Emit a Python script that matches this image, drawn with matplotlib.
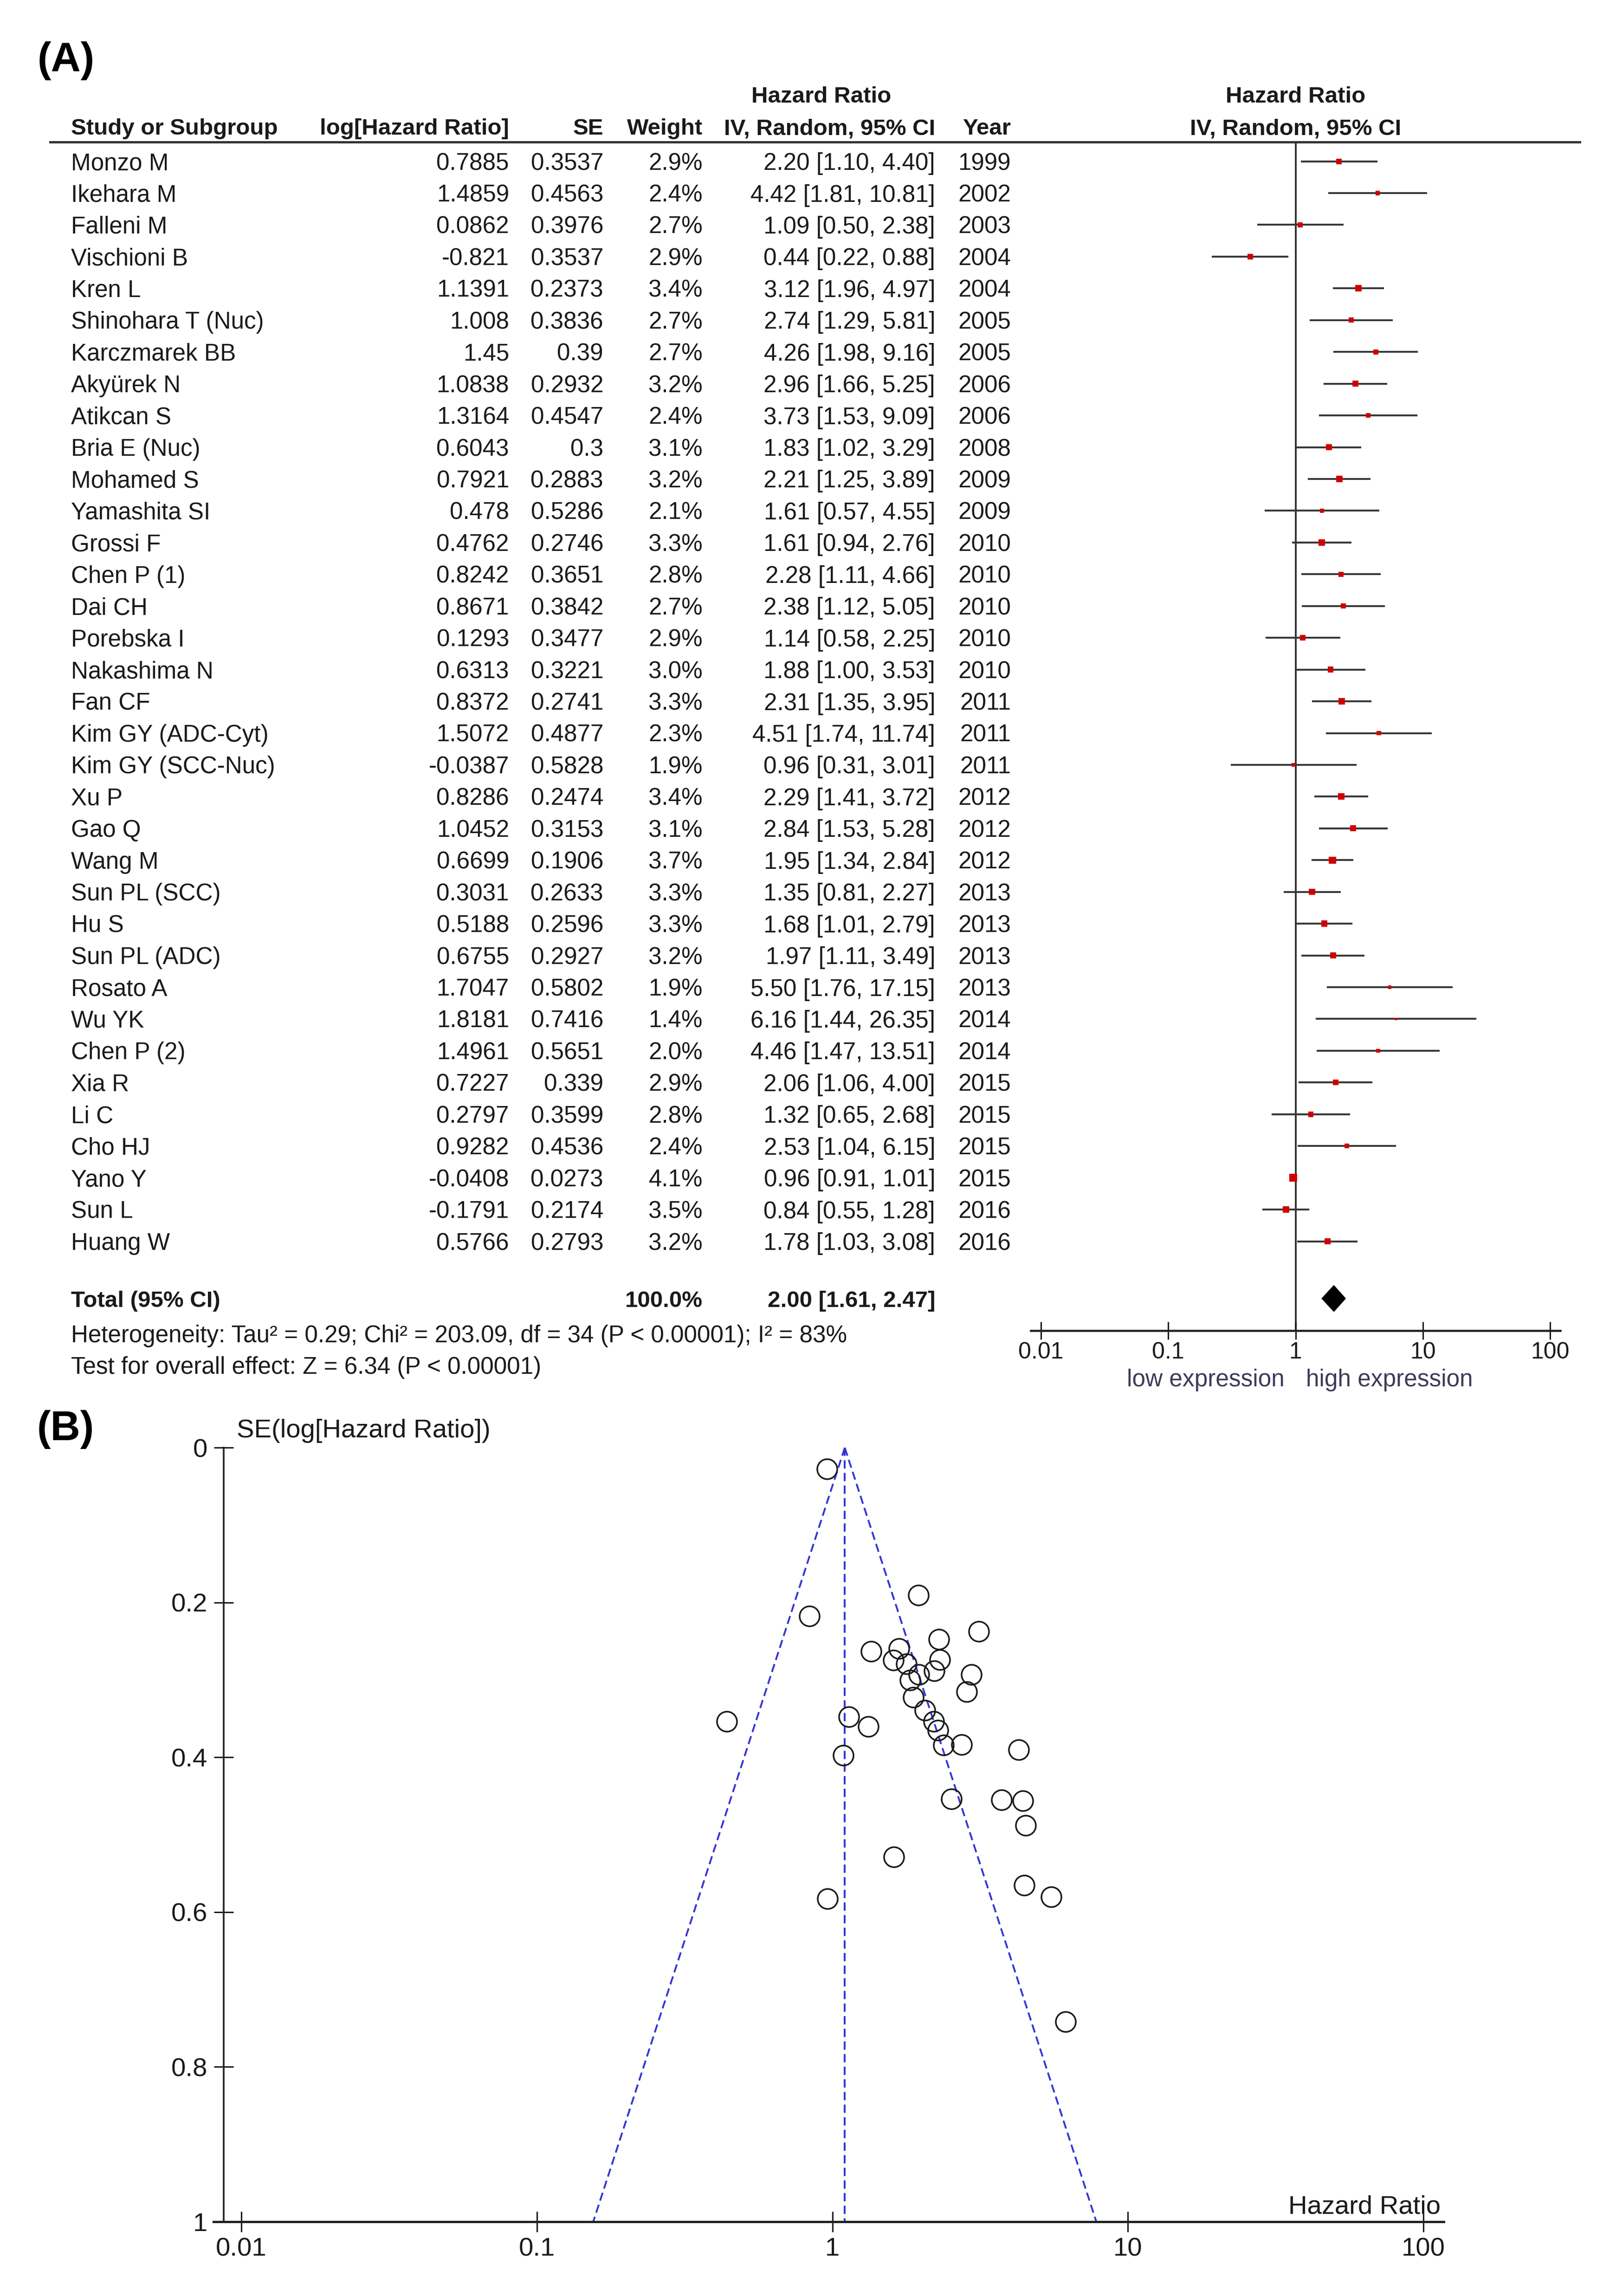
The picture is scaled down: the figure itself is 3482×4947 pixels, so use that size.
import matplotlib
matplotlib.use('Agg')
import matplotlib.pyplot as plt
import numpy as np
from matplotlib.transforms import blended_transform_factory, offset_copy
from matplotlib.lines import Line2D
from matplotlib.ticker import NullLocator

# ---------------- data ----------------
studies = ["Monzo M", "Ikehara M", "Falleni M", "Vischioni B", "Kren L",
           "Shinohara T (Nuc)", "Karczmarek BB", "Akyürek N", "Atikcan S",
           "Bria E (Nuc)", "Mohamed S", "Yamashita SI", "Grossi F", "Chen P (1)",
           "Dai CH", "Porebska I", "Nakashima N", "Fan CF", "Kim GY (ADC-Cyt)",
           "Kim GY (SCC-Nuc)", "Xu P", "Gao Q", "Wang M", "Sun PL (SCC)", "Hu S",
           "Sun PL (ADC)", "Rosato A", "Wu YK", "Chen P (2)", "Xia R", "Li C",
           "Cho HJ", "Yano Y", "Sun L", "Huang W"]
log_hr = [0.7885, 1.4859, 0.0862, -0.821, 1.1391, 1.008, 1.45, 1.0838, 1.3164,
          0.6043, 0.7921, 0.478, 0.4762, 0.8242, 0.8671, 0.1293, 0.6313, 0.8372,
          1.5072, -0.0387, 0.8286, 1.0452, 0.6699, 0.3031, 0.5188, 0.6755, 1.7047,
          1.8181, 1.4961, 0.7227, 0.2797, 0.9282, -0.0408, -0.1791, 0.5766]
se = [0.3537, 0.4563, 0.3976, 0.3537, 0.2373, 0.3836, 0.39, 0.2932, 0.4547,
      0.3, 0.2883, 0.5286, 0.2746, 0.3651, 0.3842, 0.3477, 0.3221, 0.2741,
      0.4877, 0.5828, 0.2474, 0.3153, 0.1906, 0.2633, 0.2596, 0.2927, 0.5802,
      0.7416, 0.5651, 0.339, 0.3599, 0.4536, 0.0273, 0.2174, 0.2793]
weight = [2.9, 2.4, 2.7, 2.9, 3.4, 2.7, 2.7, 3.2, 2.4, 3.1, 3.2, 2.1, 3.3, 2.8,
          2.7, 2.9, 3.0, 3.3, 2.3, 1.9, 3.4, 3.1, 3.7, 3.3, 3.3, 3.2, 1.9, 1.4,
          2.0, 2.9, 2.8, 2.4, 4.1, 3.5, 3.2]
hr = [2.20, 4.42, 1.09, 0.44, 3.12, 2.74, 4.26, 2.96, 3.73, 1.83, 2.21, 1.61,
      1.61, 2.28, 2.38, 1.14, 1.88, 2.31, 4.51, 0.96, 2.29, 2.84, 1.95, 1.35,
      1.68, 1.97, 5.50, 6.16, 4.46, 2.06, 1.32, 2.53, 0.96, 0.84, 1.78]
ci_lo = [1.10, 1.81, 0.50, 0.22, 1.96, 1.29, 1.98, 1.66, 1.53, 1.02, 1.25, 0.57,
         0.94, 1.11, 1.12, 0.58, 1.00, 1.35, 1.74, 0.31, 1.41, 1.53, 1.34, 0.81,
         1.01, 1.11, 1.76, 1.44, 1.47, 1.06, 0.65, 1.04, 0.91, 0.55, 1.03]
ci_hi = [4.40, 10.81, 2.38, 0.88, 4.97, 5.81, 9.16, 5.25, 9.09, 3.29, 3.89, 4.55,
         2.76, 4.66, 5.05, 2.25, 3.53, 3.95, 11.74, 3.01, 3.72, 5.28, 2.84, 2.27,
         2.79, 3.49, 17.15, 26.35, 13.51, 4.00, 2.68, 6.15, 1.01, 1.28, 3.08]
years = [1999, 2002, 2003, 2004, 2004, 2005, 2005, 2006, 2006, 2008, 2009, 2009,
         2010, 2010, 2010, 2010, 2010, 2011, 2011, 2011, 2012, 2012, 2012, 2013,
         2013, 2013, 2013, 2014, 2014, 2015, 2015, 2015, 2015, 2016, 2016]
total_hr, total_lo, total_hi = 2.00, 1.61, 2.47
total_weight = 100.0
heterogeneity = "Heterogeneity: Tau\u00b2 = 0.29; Chi\u00b2 = 203.09, df = 34 (P < 0.00001); I\u00b2 = 83%"
overall_test = "Test for overall effect: Z = 6.34 (P < 0.00001)"
forest_ticks = [0.01, 0.1, 1, 10, 100]
forest_ticklabels = ["0.01", "0.1", "1", "10", "100"]
funnel_yticks = [0, 0.2, 0.4, 0.6, 0.8, 1]
funnel_yticklabels = ["0", "0.2", "0.4", "0.6", "0.8", "1"]

# ---------------- figure ----------------
plt.rcParams['font.family'] = ['Liberation Sans', 'DejaVu Sans']
W, H = 3482, 4947
fig = plt.figure(figsize=(W / 100, H / 100), dpi=100)
fig.patch.set_facecolor('white')

def fx(px):
    return px / W

def fy(py):
    return 1 - py / H

TXT = '#1a1a1a'
FS = 36.8
FSB = 35.5

# ---- Panel A: forest plot ----
ROW0, ROWH = 347.6, 68.44
top_px, axis_px = 305.5, 2866.5
ax_f = fig.add_axes([fx(2221), fy(axis_px), fx(3362) - fx(2221), (axis_px - top_px) / H])
ax_f.set_xscale('log')
ax_f.set_xlim(10 ** -2.08, 10 ** 2.08)
ax_f.set_ylim((axis_px - ROW0) / ROWH, (top_px - ROW0) / ROWH)
ax_f.patch.set_alpha(0)

n = len(studies)
rows = np.arange(n)
ax_f.hlines(rows, ci_lo, ci_hi, color='#383838', lw=2.9, zorder=2)
side_pt = np.array(weight) * 4.1 * 0.72
ax_f.scatter(hr, rows, marker='s', s=side_pt ** 2, color='#d00000', linewidths=0, zorder=3)
ax_f.axvline(1, color='#333333', lw=2.8, zorder=1)

total_row = 35.8
dh = 0.41
ax_f.fill([total_lo, total_hr, total_hi, total_hr],
          [total_row, total_row - dh, total_row, total_row + dh],
          color='black', zorder=3)

ax_f.set_xticks(forest_ticks)
ax_f.set_xticklabels(forest_ticklabels)
ax_f.xaxis.set_minor_locator(NullLocator())
ax_f.tick_params(axis='x', direction='inout', length=27, width=2.2, pad=4,
                 labelsize=36, colors='#1a1a1a')
ax_f.tick_params(axis='y', left=False, labelleft=False)
for s in ['top', 'left', 'right']:
    ax_f.spines[s].set_visible(False)
ax_f.spines['bottom'].set_linewidth(3.3)
ax_f.spines['bottom'].set_color('#222222')

# table text
tt = blended_transform_factory(fig.transFigure, ax_f.transData)
BL = 0.27  # baseline offset in rows

def row_of(py):
    return (py - ROW0) / ROWH

x_name, x_log, x_se, x_w, x_ci, x_year = 153, 1097, 1300, 1514, 2015, 2178
h1 = row_of(203)
h2 = row_of(272)
fig.text(fx(1770), h1 + BL, "Hazard Ratio", transform=tt, fontsize=FSB,
         fontweight='bold', ha='center', va='baseline', color=TXT)
for x, lab, ha in [(x_name, "Study or Subgroup", 'left'),
                   (x_log, "log[Hazard Ratio]", 'right'),
                   (x_se, "SE", 'right'),
                   (x_w, "Weight", 'right'),
                   (x_ci, "IV, Random, 95% CI", 'right'),
                   (x_year, "Year", 'right')]:
    fig.text(fx(x), h2 + BL, lab, transform=tt, fontsize=FSB, fontweight='bold',
             ha=ha, va='baseline', color=TXT)
ax_f.text(1, h1 + BL, "Hazard Ratio", fontsize=FSB, fontweight='bold',
          ha='center', va='baseline', color=TXT, clip_on=False)
ax_f.text(1, h2 + BL, "IV, Random, 95% CI", fontsize=FSB, fontweight='bold',
          ha='center', va='baseline', color=TXT, clip_on=False)

fig.add_artist(Line2D([fx(108), fx(3404)], [fy(top_px)] * 2, lw=3.5, color='#303030'))

for i in range(n):
    y = i + BL
    fig.text(fx(x_name), y, studies[i], transform=tt, fontsize=FS, ha='left', va='baseline', color=TXT)
    fig.text(fx(x_log), y, '%g' % log_hr[i], transform=tt, fontsize=FS, ha='right', va='baseline', color=TXT)
    fig.text(fx(x_se), y, '%g' % se[i], transform=tt, fontsize=FS, ha='right', va='baseline', color=TXT)
    fig.text(fx(x_w), y, '%.1f%%' % weight[i], transform=tt, fontsize=FS, ha='right', va='baseline', color=TXT)
    fig.text(fx(x_ci), y, '%.2f [%.2f, %.2f]' % (hr[i], ci_lo[i], ci_hi[i]), transform=tt,
             fontsize=FS, ha='right', va='baseline', color=TXT)
    fig.text(fx(x_year), y, str(years[i]), transform=tt, fontsize=FS, ha='right', va='baseline', color=TXT)

fig.text(fx(x_name), total_row + BL, "Total (95% CI)", transform=tt, fontsize=FSB,
         fontweight='bold', ha='left', va='baseline', color=TXT)
fig.text(fx(x_w), total_row + BL, '%.1f%%' % total_weight, transform=tt, fontsize=FSB,
         fontweight='bold', ha='right', va='baseline', color=TXT)
fig.text(fx(x_ci), total_row + BL, '%.2f [%.2f, %.2f]' % (total_hr, total_lo, total_hi),
         transform=tt, fontsize=FSB, fontweight='bold', ha='right', va='baseline', color=TXT)
fig.text(fx(x_name), 36.9 + BL, heterogeneity, transform=tt, fontsize=FS,
         ha='left', va='baseline', color=TXT)
fig.text(fx(x_name), 37.9 + BL, overall_test, transform=tt, fontsize=FS,
         ha='left', va='baseline', color=TXT)

# low / high expression
tl = blended_transform_factory(ax_f.transData, fig.transFigure)
fig.text(1, fy(2987), "low expression", transform=offset_copy(tl, fig=fig, x=-24, y=0, units='dots'),
         fontsize=37, ha='right', va='baseline', color='#3c3c58')
fig.text(1, fy(2987), "high expression", transform=offset_copy(tl, fig=fig, x=22, y=0, units='dots'),
         fontsize=37, ha='left', va='baseline', color='#3c3c58')

fig.text(fx(81), fy(131), "(A)", fontsize=64, fontweight='bold', ha='left', va='center', color='black')

# ---- Panel B: funnel plot ----
ax_b = fig.add_axes([fx(482), fy(4787), fx(3111) - fx(482), (4787 - 3119.4) / H])
ax_b.set_xscale('log')
ax_b.set_xlim(10 ** -2.0597, 10 ** 2.069)
ax_b.set_ylim(1, 0)
ax_b.patch.set_alpha(0)

lh = np.array(log_hr)
sev = np.array(se)
w_fe = 1 / sev ** 2
fe = np.sum(w_fe * lh) / np.sum(w_fe)
se_range = np.array([0.0, 1.0])
blue = '#3535d2'
dash = (4.6, 2.4)
ax_b.plot(np.exp(fe - 1.96 * se_range), se_range, color=blue, lw=2.8, dashes=dash, zorder=2)
ax_b.plot(np.exp(fe + 1.96 * se_range), se_range, color=blue, lw=2.8, dashes=dash, zorder=2)
ax_b.plot([np.exp(fe)] * 2, se_range, color=blue, lw=2.8, dashes=dash, zorder=2)
ax_b.plot(np.exp(lh), sev, 'o', mfc='none', mec='#1a1a1a', ms=31, mew=2.5,
          clip_on=False, zorder=3)

ax_b.set_xticks(forest_ticks)
ax_b.set_xticklabels(forest_ticklabels)
ax_b.xaxis.set_minor_locator(NullLocator())
ax_b.set_yticks(funnel_yticks)
ax_b.set_yticklabels(funnel_yticklabels)
ax_b.tick_params(axis='x', direction='inout', length=32, width=2.2, pad=8,
                 labelsize=40.5, colors='#1a1a1a')
ax_b.tick_params(axis='y', direction='inout', length=30, width=2.2, pad=10,
                 labelsize=40.5, colors='#1a1a1a')
for s in ['top', 'right']:
    ax_b.spines[s].set_visible(False)
ax_b.spines['bottom'].set_linewidth(3.6)
ax_b.spines['bottom'].set_color('#222222')
ax_b.spines['left'].set_linewidth(2.6)
ax_b.spines['left'].set_color('#222222')
# small extension of the x axis line to the left of the y axis, as in the original
fig.add_artist(Line2D([fx(460), fx(482)], [fy(4787)] * 2, lw=3.6, color='#222222'))

fig.text(fx(510), fy(3083), "SE(log[Hazard Ratio])", fontsize=40.5, ha='left',
         va='center', color=TXT)
fig.text(fx(3104), fy(4769), "Hazard Ratio", fontsize=40.5, ha='right',
         va='baseline', color=TXT)
fig.text(fx(80), fy(3080), "(B)", fontsize=64, fontweight='bold', ha='left', va='center', color='black')

fig.savefig('out.png', dpi=100, facecolor='white')
